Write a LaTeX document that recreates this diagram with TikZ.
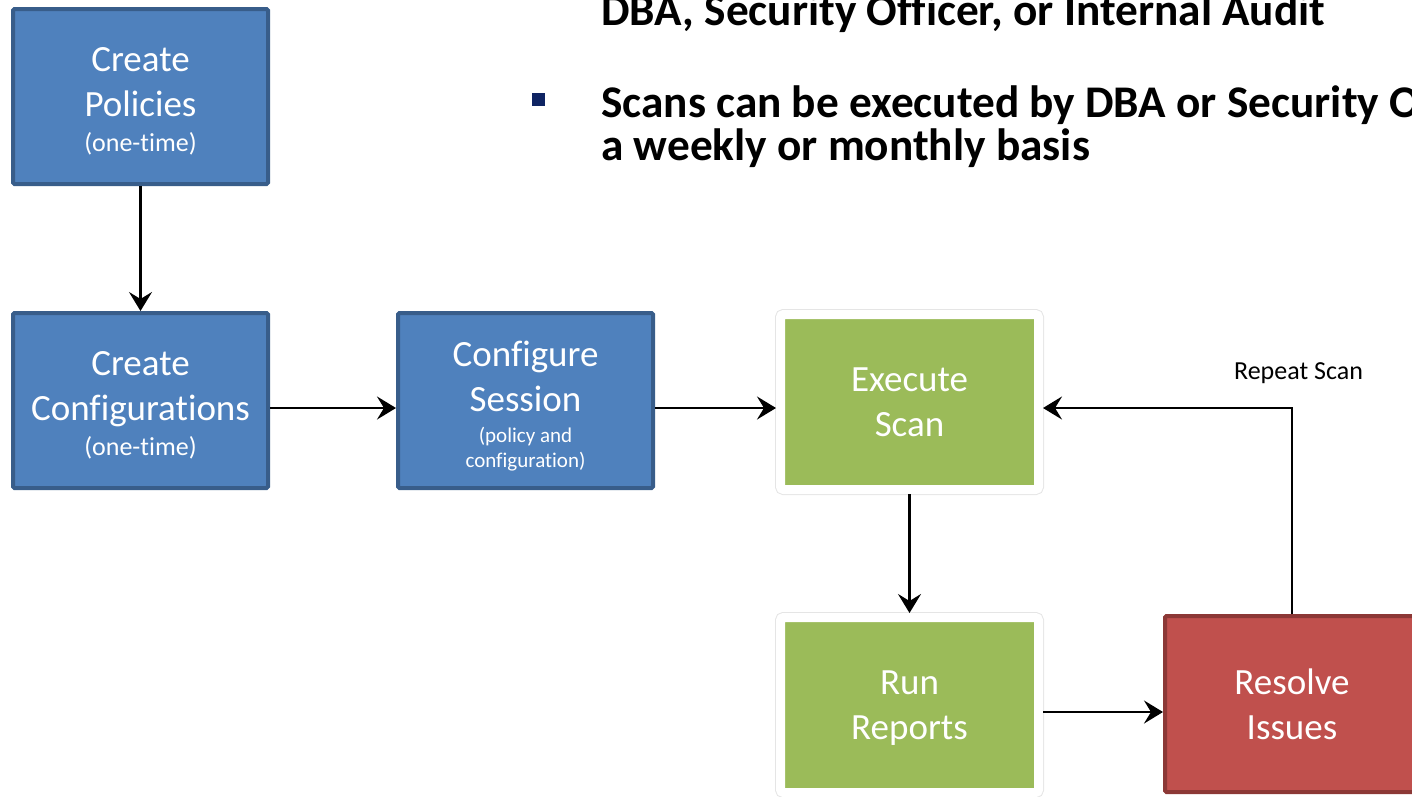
\documentclass[tikz,border=0pt]{standalone}
\usepackage{fontspec}
\setmainfont{Carlito}[Ligatures={NoCommon}]
\usetikzlibrary{arrows.meta,shadows}
\definecolor{boxblue}{HTML}{4F81BD}
\definecolor{blueedge}{HTML}{385D8A}
\definecolor{boxgreen}{HTML}{9BBB59}
\definecolor{boxred}{HTML}{C0504D}
\definecolor{rededge}{HTML}{8C3836}
\definecolor{bulletnavy}{HTML}{0F2463}
\begin{document}
\begin{tikzpicture}[x=1pt,y=-1pt,
  box/.style={minimum width=255pt, minimum height=175pt, inner sep=0pt,
    line width=4pt, rounded corners=1.5pt},
  boxtext/.style={align=center, text=white, inner sep=0pt,
    font=\fontsize{37}{45}\selectfont},
  bluebox/.style={box, fill=boxblue, draw=blueedge},
  greenbox/.style={box, fill=boxgreen, draw=white, line width=9pt,
    minimum width=258pt, minimum height=175pt, rounded corners=3pt,
    preaction={draw=black!10, line width=11pt},
    drop shadow={shadow xshift=0pt, shadow yshift=-2pt, opacity=0.3, fill=black!40}},
  redbox/.style={box, fill=boxred, draw=rededge, minimum width=254pt, minimum height=176pt},
  flow/.style={line width=2.3pt, -{Stealth[length=19pt,width=23pt,inset=7pt]}},
  note/.style={font=\fontsize{45.3}{43}\selectfont\bfseries, anchor=base west, inner sep=0pt},
]
\useasboundingbox (0,0) rectangle (1412,796);
\clip (0,0) rectangle (1412,796);

% heading text
\node[note] (who) at (601,25) {DBA, Security Officer, or Internal Audit};
\node[fill=bulletnavy, minimum size=13pt, inner sep=0pt] (bullet) at (538,99.5) {};
\node[note] (scan1) at (601,117) {Scans can be executed by DBA or Security O};
\node[note] (scan2) at (601,160) {a weekly or monthly basis};

% process boxes
\node[bluebox] (pol) at (140.5,96.5) {};
\node[greenbox] (exec) at (909.5,402) {};
\node[greenbox] (rep) at (909.5,705) {};
\node[bluebox] (conf) at (140.5,400.5) {};
\node[bluebox] (sess) at (525.5,400.5) {};
\node[redbox] (res) at (1292,704) {};

% box captions
\node[boxtext] (polt) at ([yshift=-5pt]pol.center)
  {Create\\Policies\\[-10pt]{\fontsize{26}{30}\selectfont (one-time)}};
\node[boxtext] (conft) at ([yshift=-5pt]conf.center)
  {Create\\Configurations\\[-10pt]{\fontsize{26}{30}\selectfont (one-time)}};
\node[boxtext] (sesst) at ([yshift=-6pt]sess.center)
  {Configure\\Session\\[-14pt]{\fontsize{21}{25}\selectfont (policy and}\\[-20pt]{\fontsize{21}{25}\selectfont configuration)}};
\node[boxtext] (exect) at (exec.center) {Execute\\Scan};
\node[boxtext] (rept) at ([yshift=-3pt]rep.center) {Run\\Reports};
\node[boxtext] (rest) at (res.center) {Resolve\\Issues};

% connector rows
\coordinate (rowA) at (0,408);
\coordinate (rowB) at (0,712);
\coordinate (turn) at (res.north |- rowA);

\draw[flow] (pol.south) -- (conf.north);
\draw[flow] (conf.east |- rowA) -- (sess.west |- rowA);
\draw[flow] (sess.east |- rowA) -- (exec.west |- rowA);
\draw[flow] (exec.south) -- (rep.north);
\draw[flow] (rep.east |- rowB) -- (res.west |- rowB);
\draw[flow] (res.north) -- (turn) -- (exec.east |- rowA);

\node[font=\fontsize{26}{30}\selectfont, anchor=base, inner sep=0pt] (again) at (1298.5,379) {Repeat Scan};
\end{tikzpicture}
\end{document}
